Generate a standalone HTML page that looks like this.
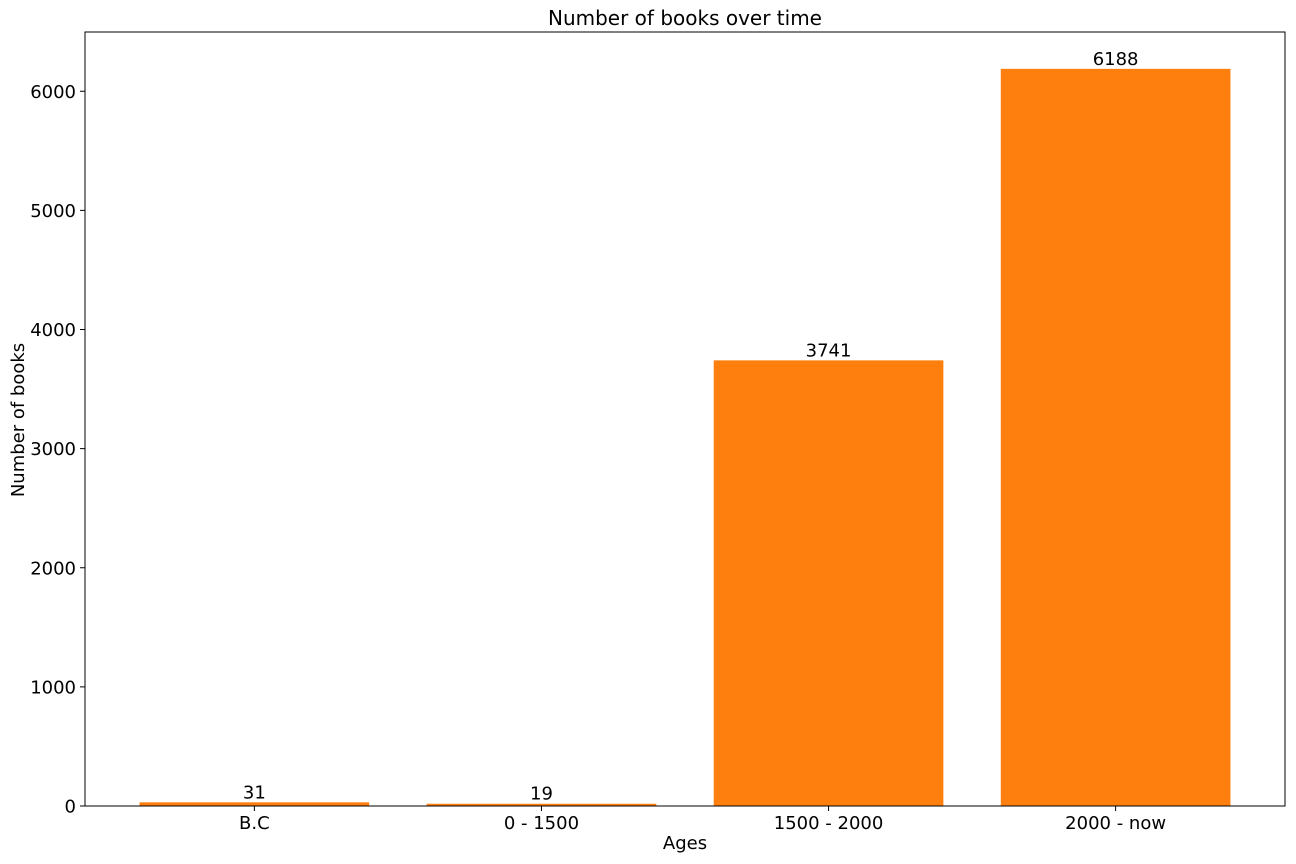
<!DOCTYPE html>
<html><head><meta charset="utf-8"><style>
body{margin:0;background:#fff;}
svg{display:block;font-family:"DejaVu Sans","Liberation Sans",sans-serif;}
</style></head><body>
<svg id="chart" width="1296" height="864" viewBox="0 0 1296 864">
<text x="685" y="25" font-size="20" text-anchor="middle" fill="#000">Number of books over time</text>
<g id="bars"></g>
<g id="yticks"></g>
<g id="xticks"></g>
<rect x="85" y="32" width="1200" height="774" fill="none" stroke="#000" stroke-width="1"/>
<text x="685" y="849" font-size="18" text-anchor="middle">Ages</text>
<text transform="translate(24,420) rotate(-90)" font-size="18" text-anchor="middle">Number of books</text>
</svg>
<script>
const categories=["B.C","0 - 1500","1500 - 2000","2000 - now"];
const values=[31,19,3741,6188];
const yTickValues=[0,1000,2000,3000,4000,5000,6000];
const L=85,R=1285,T=32,B=806;
const yMax=Math.max(...values)*1.05;
const xMin=-0.59,xMax=categories.length-1+0.59;
const ys=v=>B-(v/yMax)*(B-T);
const xs=i=>L+(i-xMin)/(xMax-xMin)*(R-L);
const NS="http://www.w3.org/2000/svg";
function mk(tag,attrs,parent){const e=document.createElementNS(NS,tag);for(const k in attrs)e.setAttribute(k,attrs[k]);parent.appendChild(e);return e;}
const bars=document.getElementById('bars'),yt=document.getElementById('yticks'),xt=document.getElementById('xticks');
const bw=0.8*(xs(1)-xs(0));
values.forEach((v,i)=>{
  const r=mk('rect',{x:xs(i)-bw/2,y:ys(v),width:bw,height:B-ys(v),fill:'#ff7f0e'},bars);
  
  
  const t=mk('text',{x:xs(i),y:ys(v)-4,'font-size':18,'text-anchor':'middle'},bars);
  t.textContent=v;
  
  
  mk('line',{x1:xs(i),x2:xs(i),y1:B,y2:B+5,stroke:'#000'},xt);
  const l=mk('text',{x:xs(i),y:B+23,'font-size':18,'text-anchor':'middle'},xt);
  l.textContent=categories[i];
  
  
});
yTickValues.forEach(v=>{
  mk('line',{x1:L-5,x2:L,y1:ys(v),y2:ys(v),stroke:'#000'},yt);
  const l=mk('text',{x:L-9,y:ys(v)+6.5,'font-size':18,'text-anchor':'end'},yt);
  l.textContent=v;
  
  
});
</script>
</body></html>
